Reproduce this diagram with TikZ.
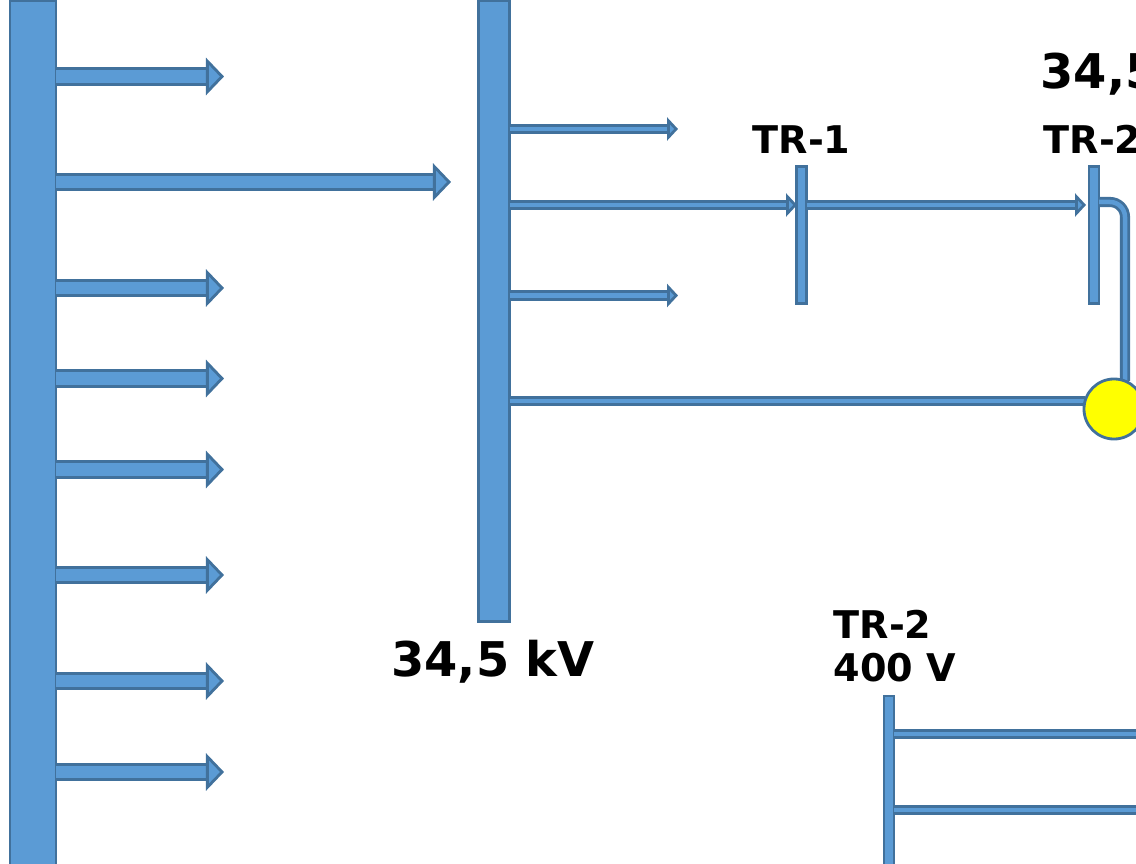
\documentclass[tikz,border=0pt]{standalone}
\usepackage{fontspec}
\setmainfont{DejaVu Sans}
\usetikzlibrary{arrows.meta}
\definecolor{busfill}{RGB}{91,155,213}
\definecolor{busedge}{RGB}{65,113,156}
\definecolor{joint}{RGB}{255,255,0}
\tikzset{
  bus/.style={draw=busedge, fill=busfill, line width=0.8pt, inner sep=0pt, outer sep=0pt},
  bigfeed/.style={draw=busedge, double=busfill, double distance=0.125cm, line width=0.8pt,
    -{Triangle[length=0.18cm, width=0.37cm, line width=0.8pt, fill=busfill]}},
  smallfeed/.style={draw=busedge, double=busfill, double distance=0.045cm, line width=0.8pt,
    -{Triangle[length=0.11cm, width=0.23cm, line width=0.8pt, fill=busfill]}},
  tie/.style={draw=busedge, double=busfill, double distance=0.045cm, line width=0.8pt},
  bigtext/.style={font=\fontsize{13.6}{16}\selectfont\bfseries, inner sep=0pt},
  smalltext/.style={font=\fontsize{10.85}{12.2}\selectfont\bfseries, inner sep=0pt}
}
\begin{document}
\begin{tikzpicture}[x=0.01cm, y=-0.01cm]
  \useasboundingbox (0,0) rectangle (1136,864);
  \clip (0,0) rectangle (1136,864);
  \node[bus, minimum width=0.46cm, minimum height=8.69cm] (b1) at (33,435.5) {};
  \node[bus, minimum width=0.31cm, minimum height=6.2cm] (b2) at (494,311) {};
  \node[bus, minimum width=0.1cm, minimum height=1.37cm] (t1) at (801.5,235) {};
  \node[bus, minimum width=0.1cm, minimum height=1.37cm] (t2) at (1094,235) {};
  \node[bus, minimum width=0.1cm, minimum height=1.9cm] (t3) at (889,791) {};
  \coordinate (a1) at (224,76.5);
  \coordinate (a2) at (451,182);
  \coordinate (a3) at (224,288);
  \coordinate (a4) at (224,378.5);
  \coordinate (a5) at (224,469.5);
  \coordinate (a6) at (224,575);
  \coordinate (a7) at (224,681);
  \coordinate (a8) at (224,772);
  \coordinate (f1) at (678,129);
  \coordinate (f2) at (678,295.5);
  \coordinate (k1) at (1099,202);
  \coordinate (k2) at (1085,401);
  \coordinate (k3) at (1150,734);
  \coordinate (k4) at (1150,810);
  \coordinate (k5) at (797,205);
  \coordinate (k6) at (1086,205);
  \draw[bigfeed] (b1.east |- a1) -- (a1);
  \draw[bigfeed] (b1.east |- a2) -- (a2);
  \draw[bigfeed] (b1.east |- a3) -- (a3);
  \draw[bigfeed] (b1.east |- a4) -- (a4);
  \draw[bigfeed] (b1.east |- a5) -- (a5);
  \draw[bigfeed] (b1.east |- a6) -- (a6);
  \draw[bigfeed] (b1.east |- a7) -- (a7);
  \draw[bigfeed] (b1.east |- a8) -- (a8);
  \draw[smallfeed] (b2.east |- f1) -- (f1);
  \draw[smallfeed] (b2.east |- f2) -- (f2);
  \draw[smallfeed] (b2.east |- k5) -- (k5);
  \draw[smallfeed] (t1.east |- k6) -- (k6);
  \draw[tie] (b2.east |- k2) -- (k2);
  \draw[tie, rounded corners=0.15cm] (t2.east |- k1) -| (1125,381);
  \draw[tie] (t3.east |- k3) -- (k3);
  \draw[tie] (t3.east |- k4) -- (k4);
  \node[draw=busedge, fill=joint, circle, line width=0.8pt, minimum size=0.6cm, inner sep=0pt] (c1) at (1114,409) {};
  \node[bigtext, anchor=base] (l1) at (493,676) {34,5 kV};
  \node[bigtext, anchor=base west] (l2) at (1040,89) {34,5};
  \node[smalltext, anchor=base west] (l3) at (752,154) {TR-1};
  \node[smalltext, anchor=base west] (l4) at (1043,154) {TR-2};
  \node[smalltext, anchor=base west] (l5) at (833,639) {TR-2};
  \node[smalltext, anchor=base west] (l6) at (833,682) {400 V};
\end{tikzpicture}
\end{document}
